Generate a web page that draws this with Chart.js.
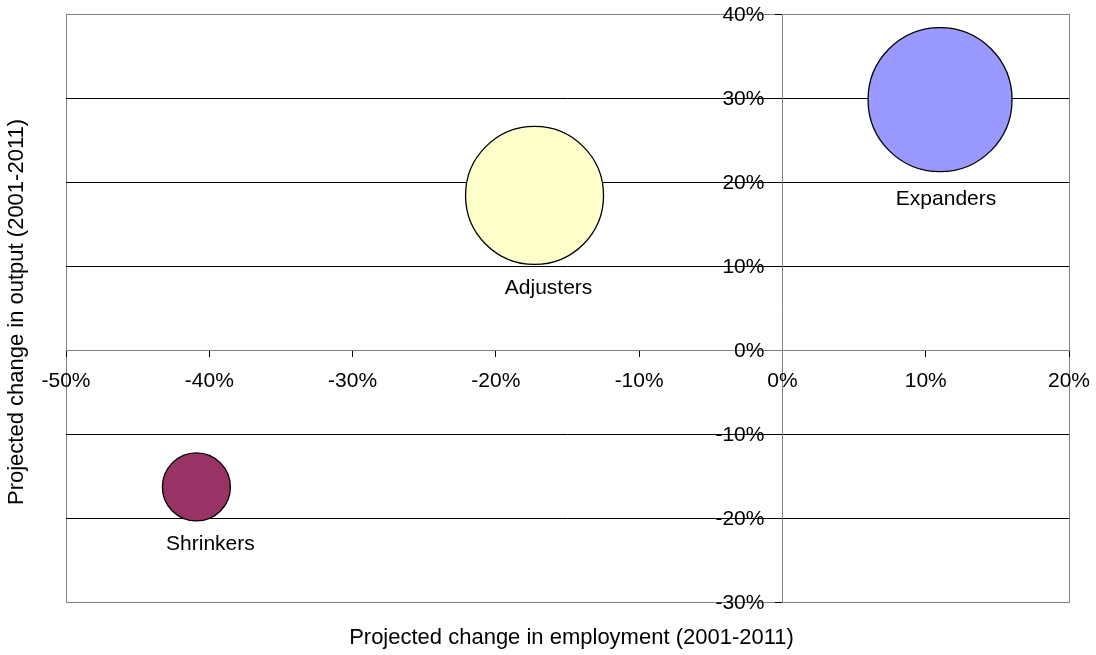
<!DOCTYPE html>
<html>
<head>
<meta charset="utf-8">
<script src="https://cdn.jsdelivr.net/npm/chart.js@4/dist/chart.umd.min.js"></script>
<style>
  html, body { margin: 0; padding: 0; background: #ffffff; }
  #wrap { width: 1096px; height: 655px; position: relative; }
</style>
</head>
<body>
<div id="wrap"><canvas id="chart" width="1096" height="655"></canvas></div>
<script>
// Business groups: projected change in employment vs. output, 2001-2011
const groups = ['Expanders', 'Adjusters', 'Shrinkers'];
const employmentChange = [11.0, -17.3, -40.9];   // % change, x
const outputChange = [29.8, 18.4, -16.3];        // % change, y
const bubbleRadius = [72, 69, 34];               // bubble size
const groupColors = ['#9999FF', '#FFFFCC', '#993366'];

const xTickValues = [-50, -40, -30, -20, -10, 0, 10, 20];
const yTickValues = [-30, -20, -10, 0, 10, 20, 30, 40];

const xTitle = 'Projected change in employment (2001-2011)';
const yTitle = 'Projected change in output (2001-2011)';

const FONT = "'Liberation Sans', Arial, sans-serif";
const FONT_SIZE = 21;
const TITLE_SIZE = 22;

const pct = v => v + '%';

const points = groups.map((g, i) => ({
  x: employmentChange[i], y: outputChange[i], r: bubbleRadius[i], label: g
}));

// Grey frame round the plot area, drawn under the grid
const frame = {
  id: 'frame',
  beforeDraw(chart) {
    const { ctx, chartArea: a } = chart;
    ctx.save();
    ctx.strokeStyle = '#808080';
    ctx.lineWidth = 1;
    ctx.strokeRect(Math.round(a.left) + 0.5, Math.round(a.top) + 0.5,
      Math.round(a.right - a.left), Math.round(a.bottom - a.top));
    ctx.restore();
  }
};

// Tick values of both axes, written beside the axes that cross at 0%
const axisLabels = {
  id: 'axisLabels',
  afterDraw(chart, args, opts) {
    const { ctx } = chart;
    const xs = chart.scales.x, ys = chart.scales.y;
    const axisX = xs.getPixelForValue(0);
    const axisY = ys.getPixelForValue(0);
    ctx.save();
    ctx.fillStyle = '#000';
    ctx.font = FONT_SIZE + 'px ' + FONT;
    ctx.textBaseline = 'middle';
    ctx.textAlign = 'right';
    ys.ticks.forEach(t => {
      ctx.fillText(pct(t.value), axisX - opts.yGap, ys.getPixelForValue(t.value) + 1);
    });
    ctx.textAlign = 'center';
    xs.ticks.forEach(t => {
      ctx.fillText(pct(t.value), xs.getPixelForValue(t.value), axisY + opts.xGap);
    });
    ctx.restore();
  }
};

// Group names under each bubble, plus both axis titles
const annotations = {
  id: 'annotations',
  afterDraw(chart, args, opts) {
    const { ctx, chartArea: a } = chart;
    ctx.save();
    ctx.fillStyle = '#000';
    ctx.font = FONT_SIZE + 'px ' + FONT;
    ctx.textAlign = 'center';
    ctx.textBaseline = 'middle';
    const meta = chart.getDatasetMeta(0);
    meta.data.forEach((el, i) => {
      const off = opts.labelOffsets[i];
      ctx.fillText(points[i].label, el.x + off[0], el.y + el.options.radius + off[1]);
    });
    ctx.font = TITLE_SIZE + 'px ' + FONT;
    ctx.fillText(xTitle, (a.left + a.right) / 2 + 4, 638);
    ctx.translate(17, (a.top + a.bottom) / 2 + 4);
    ctx.rotate(-Math.PI / 2);
    ctx.fillText(yTitle, 0, 0);
    ctx.restore();
  }
};

new Chart(document.getElementById('chart'), {
  type: 'bubble',
  data: {
    datasets: [{
      data: points,
      backgroundColor: groupColors,
      borderColor: '#000',
      borderWidth: 1.3,
      hoverBorderWidth: 1.3
    }]
  },
  plugins: [frame, axisLabels, annotations],
  options: {
    responsive: false,
    animation: false,
    events: [],
    layout: { autoPadding: false, padding: { left: 66, top: 14, right: 27, bottom: 53 } },
    plugins: {
      legend: { display: false },
      tooltip: { enabled: false },
      axisLabels: { yGap: 18, xGap: 31 },
      annotations: { labelOffsets: [[6, 28], [14, 24], [14, 23]] }
    },
    scales: {
      x: {
        type: 'linear',
        position: { y: 0 },
        min: xTickValues[0],
        max: xTickValues[xTickValues.length - 1],
        afterBuildTicks: s => { s.ticks = xTickValues.map(v => ({ value: v })); },
        ticks: { display: false },
        grid: { drawOnChartArea: false, drawTicks: true, tickLength: 6, tickColor: '#000' },
        border: { display: true, color: '#808080', width: 1 }
      },
      y: {
        type: 'linear',
        position: { x: 0 },
        min: yTickValues[0],
        max: yTickValues[yTickValues.length - 1],
        afterBuildTicks: s => { s.ticks = yTickValues.map(v => ({ value: v })); },
        ticks: { display: false },
        grid: {
          color: c => {
            const v = c.tick && c.tick.value;
            if (v === 0) return 'rgba(0,0,0,0)';
            if (v === 40 || v === -30) return '#808080';
            return '#000';
          },
          drawTicks: true,
          tickLength: 7,
          tickColor: '#000'
        },
        border: { display: true, color: '#808080', width: 1 }
      }
    }
  }
});
</script>
</body>
</html>
